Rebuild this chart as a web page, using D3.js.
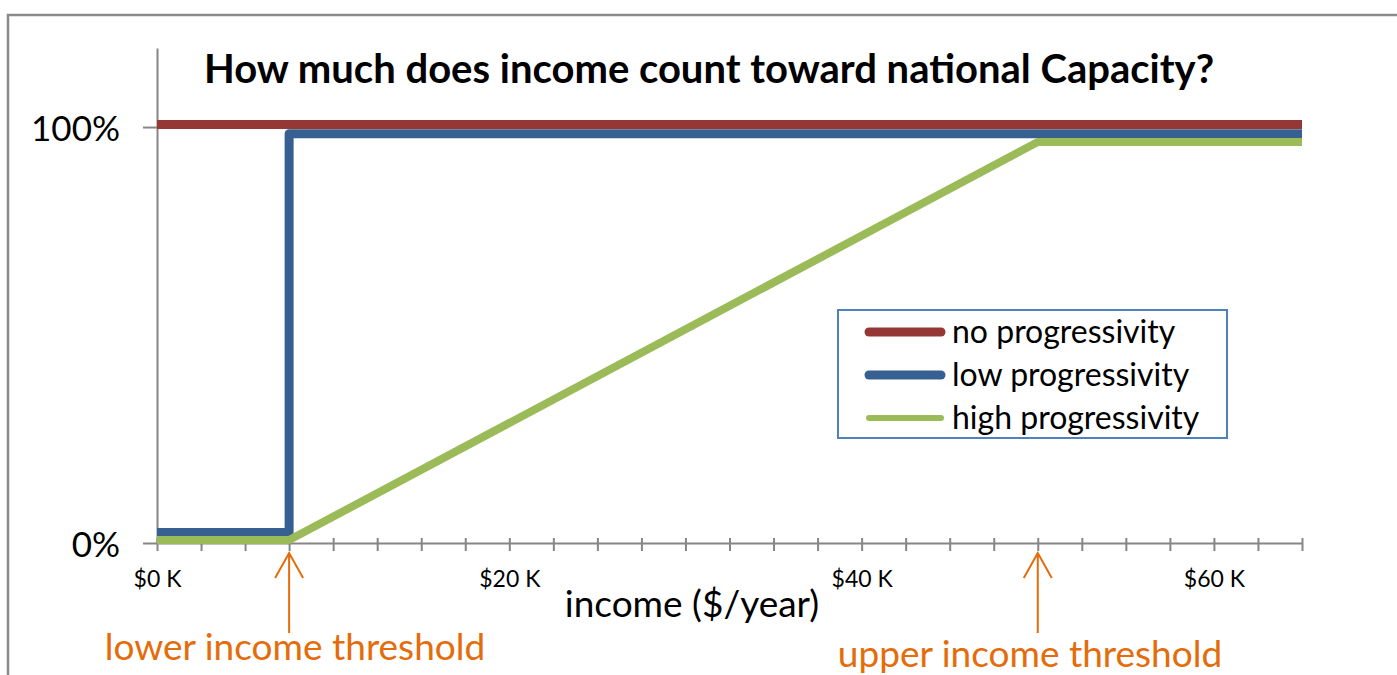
<!DOCTYPE html>
<head>
  <meta charset="utf-8">
  <script src="https://d3js.org/d3.v7.min.js"></script>
  <style>
    body { margin: 0; background: #fff; }
    text { font-family: Lato, "Open Sans", sans-serif; }
  </style>
</head>
<body>
  <svg id="chart"></svg>
  <script>
    // income in $K, share counted (1 = 100%)
    var noProgX = [0, 65];
    var noProgY = [1.006, 1.006];
    var lowProgX = [0, 7.5, 7.5, 65];
    var lowProgY = [0.025, 0.025, 0.984, 0.984];
    var highProgX = [0, 7.5, 50, 65];
    var highProgY = [0.007, 0.007, 0.964, 0.964];

    var seriesNames = ["no progressivity", "low progressivity", "high progressivity"];
    var seriesColors = ["#953735", "#366092", "#9bbb59"];

    var xLabelTicks = [0, 20, 40, 60];
    var yTickValues = [0, 1];
    var yTickLabels = ["0%", "100%"];
    var thresholds = [7.5, 50];
    var thresholdLabels = ["lower income threshold", "upper income threshold"];

    var width = 1397, height = 675;
    var svg = d3.select("#chart").attr("width", width).attr("height", height);

    // chart frame (only top and left edges visible in the crop)
    svg.append("path")
      .attr("d", "M8,675 L8,15 L1397,15")
      .attr("fill", "none")
      .attr("stroke", "#8a8a8a")
      .attr("stroke-width", 2.5);

    var x = d3.scaleLinear().domain([0, 65]).range([157, 1302]);
    var y = d3.scaleLinear().domain([0, 1.19]).range([543, 48]);

    // title
    svg.append("text")
      .attr("x", 709).attr("y", 83)
      .attr("text-anchor", "middle")
      .attr("font-weight", "bold")
      .attr("font-size", 40)
      .text("How much does income count toward national Capacity?");

    // x axis, a tick every $2.5K that crosses the line
    var xAxis = d3.axisBottom(x)
      .tickValues(d3.range(0, 65.01, 2.5))
      .tickSizeOuter(0)
      .tickSizeInner(8)
      .tickFormat(function(d) { return xLabelTicks.indexOf(d) >= 0 ? "$" + d + " K" : ""; });

    var gx = svg.append("g")
      .attr("transform", "translate(0," + y(0) + ")")
      .call(xAxis);
    gx.select(".domain").attr("stroke", "#868686").attr("stroke-width", 2);
    gx.selectAll(".tick line").attr("stroke", "#868686").attr("stroke-width", 2).attr("y1", -5);
    gx.selectAll(".tick text")
      .attr("y", 44).attr("dy", 0)
      .attr("font-family", "Lato").attr("font-size", 23).attr("fill", "#000");

    // y axis
    var yAxis = d3.axisLeft(y)
      .tickValues(yTickValues)
      .tickSizeOuter(0)
      .tickSizeInner(14)
      .tickFormat(function(d, i) { return yTickLabels[i]; });

    var gy = svg.append("g")
      .attr("transform", "translate(" + x(0) + ",0)")
      .call(yAxis);
    gy.select(".domain").attr("stroke", "#868686").attr("stroke-width", 2);
    gy.selectAll(".tick line").attr("stroke", "#868686").attr("stroke-width", 2);
    gy.selectAll(".tick text")
      .attr("x", -37).attr("dy", "0.38em")
      .attr("font-family", "Lato").attr("font-size", 35).attr("fill", "#000");

    // axis title
    svg.append("text")
      .attr("x", 692).attr("y", 617)
      .attr("text-anchor", "middle")
      .attr("font-size", 37)
      .text("income ($/year)");

    // series
    var series = [
      d3.zip(noProgX, noProgY),
      d3.zip(lowProgX, lowProgY),
      d3.zip(highProgX, highProgY)
    ];
    var line = d3.line().x(function(d) { return x(d[0]); }).y(function(d) { return y(d[1]); });

    svg.selectAll(".series")
      .data(series).enter()
      .append("path")
      .attr("class", "series")
      .attr("d", line)
      .attr("fill", "none")
      .attr("stroke", function(d, i) { return seriesColors[i]; })
      .attr("stroke-width", function(d, i) { return i == 2 ? 8 : 9; })
      .attr("stroke-linejoin", "round");

    // legend
    var legend = svg.append("g").attr("transform", "translate(838,310)");
    legend.append("rect")
      .attr("width", 389).attr("height", 128)
      .attr("fill", "#fff")
      .attr("stroke", "#4f81bd")
      .attr("stroke-width", 2);
    var items = legend.selectAll(".item")
      .data(seriesNames).enter()
      .append("g")
      .attr("transform", function(d, i) { return "translate(0," + (22 + i * 43) + ")"; });
    items.append("line")
      .attr("x1", 31).attr("x2", 103)
      .attr("stroke", function(d, i) { return seriesColors[i]; })
      .attr("stroke-width", function(d, i) { return i == 2 ? 6 : 9; })
      .attr("stroke-linecap", "round");
    items.append("text")
      .attr("x", 114).attr("dy", "0.33em")
      .attr("font-size", 32)
      .text(function(d) { return d; });

    // threshold arrows
    var arrows = svg.selectAll(".arrow")
      .data(thresholds).enter()
      .append("g")
      .attr("class", "arrow")
      .attr("transform", function(d) { return "translate(" + x(d) + ",553)"; });
    arrows.append("path")
      .attr("d", "M0,0 L0,80 M-14,25 L0,0 L14,25")
      .attr("fill", "none")
      .attr("stroke", "#e46c0a")
      .attr("stroke-width", 2);

    svg.selectAll(".thresh-label")
      .data(thresholdLabels).enter()
      .append("text")
      .attr("x", function(d, i) { return i == 0 ? 295 : 1030; })
      .attr("y", function(d, i) { return i == 0 ? 660 : 667; })
      .attr("text-anchor", "middle")
      .attr("font-size", 37)
      .attr("fill", "#e46c0a")
      .text(function(d) { return d; });
  </script>
</body>
